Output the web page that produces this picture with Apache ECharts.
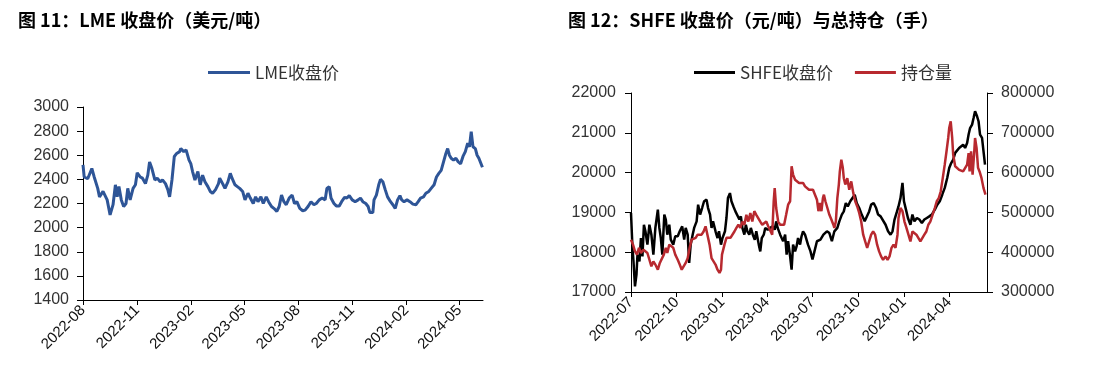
<!DOCTYPE html>
<html>
<head>
<meta charset="utf-8">
<script src="https://cdn.jsdelivr.net/npm/echarts@6/dist/echarts.min.js"></script>
<style>
html, body { margin: 0; padding: 0; background: #fff; }
#main { width: 1093px; height: 377px; }
</style>
</head>
<body>
<div id="main"></div>
<script>
// 图11 LME收盘价（美元/吨）
var lmeDates = [
  '2022-08-01','2022-08-03','2022-08-09','2022-08-12','2022-08-16','2022-08-20','2022-08-26','2022-08-29',
  '2022-09-04','2022-09-07','2022-09-11','2022-09-16','2022-09-21','2022-09-25','2022-09-28','2022-10-01',
  '2022-10-05','2022-10-09','2022-10-13','2022-10-16','2022-10-20','2022-10-25','2022-10-29','2022-11-01',
  '2022-11-06','2022-11-10','2022-11-15','2022-11-19','2022-11-22','2022-11-26','2022-12-01','2022-12-05',
  '2022-12-10','2022-12-14','2022-12-19','2022-12-23','2022-12-26','2022-12-30','2023-01-03','2023-01-07',
  '2023-01-12','2023-01-14','2023-01-19','2023-01-23','2023-01-28','2023-01-31','2023-02-03','2023-02-07',
  '2023-02-12','2023-02-16','2023-02-20','2023-02-24','2023-03-01','2023-03-05','2023-03-09','2023-03-14',
  '2023-03-19','2023-03-21','2023-03-26','2023-03-30','2023-04-04','2023-04-08','2023-04-11','2023-04-16',
  '2023-04-20','2023-04-24','2023-04-29','2023-05-03','2023-05-08','2023-05-12','2023-05-17','2023-05-21',
  '2023-05-25','2023-05-30','2023-06-03','2023-06-08','2023-06-12','2023-06-17','2023-06-21','2023-06-26',
  '2023-06-30','2023-07-04','2023-07-08','2023-07-12','2023-07-17','2023-07-22','2023-07-26','2023-07-30',
  '2023-08-04','2023-08-09','2023-08-13','2023-08-18','2023-08-23','2023-08-28','2023-09-01','2023-09-06',
  '2023-09-11','2023-09-16','2023-09-19','2023-09-23','2023-09-26','2023-10-01','2023-10-05','2023-10-10',
  '2023-10-14','2023-10-19','2023-10-23','2023-10-27','2023-11-01','2023-11-06','2023-11-11','2023-11-15',
  '2023-11-19','2023-11-24','2023-11-28','2023-12-01','2023-12-06','2023-12-08','2023-12-12','2023-12-16',
  '2023-12-19','2023-12-23','2023-12-27','2023-12-31','2024-01-05','2024-01-09','2024-01-13','2024-01-17',
  '2024-01-21','2024-01-24','2024-01-28','2024-02-02','2024-02-07','2024-02-12','2024-02-17','2024-02-21',
  '2024-02-25','2024-03-01','2024-03-05','2024-03-10','2024-03-14','2024-03-19','2024-03-23','2024-03-27',
  '2024-03-31','2024-04-04','2024-04-08','2024-04-11','2024-04-14','2024-04-17','2024-04-21','2024-04-25',
  '2024-04-29','2024-05-03','2024-05-07','2024-05-11','2024-05-15','2024-05-18','2024-05-21','2024-05-24',
  '2024-05-28','2024-05-31','2024-06-03','2024-06-06','2024-06-09'
];
var lmeClose = [
  2520,2420,2405,2410,2490,2420,2325,2255,
  2300,2315,2230,2105,2190,2355,2255,2340,
  2230,2175,2200,2325,2230,2325,2355,2455,
  2420,2410,2365,2435,2545,2490,2395,2410,
  2380,2395,2365,2315,2255,2395,2590,2615,
  2630,2655,2630,2645,2560,2530,2465,2395,
  2465,2355,2435,2380,2340,2300,2285,2315,
  2365,2410,2365,2325,2380,2450,2410,2355,
  2340,2325,2300,2230,2285,2245,2200,2255,
  2215,2255,2200,2255,2215,2175,2160,2135,
  2175,2270,2215,2190,2245,2270,2200,2215,
  2160,2140,2145,2175,2215,2190,2200,2230,
  2245,2230,2325,2340,2245,2200,2180,2180,
  2215,2250,2245,2265,2230,2215,2230,2245,
  2215,2200,2175,2125,2125,2230,2270,2355,
  2400,2380,2315,2255,2215,2190,2160,2230,
  2265,2230,2215,2230,2215,2195,2190,2215,
  2245,2255,2285,2300,2325,2355,2420,2450,
  2475,2545,2615,2655,2600,2575,2560,2575,
  2545,2530,2590,2630,2700,2670,2795,2670,
  2655,2600,2575,2560,2500
];
var lmeTicks = ['2022-08-01','2022-11-01','2023-02-01','2023-05-01','2023-08-01','2023-11-01','2024-02-01','2024-05-01'];

// 图12 SHFE收盘价（元/吨）
var shfeDates = [
  '2022-07-01','2022-07-04','2022-07-06','2022-07-09','2022-07-12','2022-07-14','2022-07-18','2022-07-21',
  '2022-07-24','2022-07-27','2022-07-30','2022-08-03','2022-08-07','2022-08-11','2022-08-15','2022-08-19',
  '2022-08-24','2022-08-27','2022-08-30','2022-09-02','2022-09-06','2022-09-09','2022-09-12','2022-09-16',
  '2022-09-19','2022-09-24','2022-09-28','2022-10-03','2022-10-07','2022-10-12','2022-10-16','2022-10-19',
  '2022-10-23','2022-10-26','2022-10-29','2022-11-02','2022-11-05','2022-11-10','2022-11-13','2022-11-17',
  '2022-11-21','2022-11-25','2022-11-30','2022-12-03','2022-12-07','2022-12-10','2022-12-13','2022-12-18',
  '2022-12-22','2022-12-25','2022-12-29','2023-01-01','2023-01-06','2023-01-09','2023-01-12','2023-01-16',
  '2023-01-19','2023-01-23','2023-01-27','2023-01-31','2023-02-04','2023-02-07','2023-02-10','2023-02-14',
  '2023-02-17','2023-02-20','2023-02-24','2023-02-27','2023-03-03','2023-03-07','2023-03-10','2023-03-15',
  '2023-03-18','2023-03-21','2023-03-25','2023-03-28','2023-04-02','2023-04-07','2023-04-12','2023-04-16',
  '2023-04-19','2023-04-22','2023-04-27','2023-04-30','2023-05-03','2023-05-07','2023-05-10','2023-05-13',
  '2023-05-17','2023-05-20','2023-05-23','2023-05-27','2023-05-30','2023-06-02','2023-06-06','2023-06-09',
  '2023-06-12','2023-06-16','2023-06-22','2023-06-27','2023-07-01','2023-07-05','2023-07-10','2023-07-17',
  '2023-07-23','2023-07-30','2023-08-04','2023-08-09','2023-08-14','2023-08-20','2023-08-24','2023-08-29',
  '2023-09-02','2023-09-06','2023-09-10','2023-09-15','2023-09-19','2023-09-24','2023-09-28','2023-10-03',
  '2023-10-08','2023-10-14','2023-10-18','2023-10-23','2023-10-27','2023-11-01','2023-11-06','2023-11-10',
  '2023-11-15','2023-11-19','2023-11-25','2023-11-30','2023-12-05','2023-12-09','2023-12-13','2023-12-18',
  '2023-12-21','2023-12-25','2023-12-29','2024-01-01','2024-01-05','2024-01-09','2024-01-14','2024-01-18',
  '2024-01-22','2024-01-27','2024-02-01','2024-02-06','2024-02-11','2024-02-16','2024-02-21','2024-02-26',
  '2024-03-03','2024-03-08','2024-03-13','2024-03-18','2024-03-23','2024-03-28','2024-04-01','2024-04-05',
  '2024-04-09','2024-04-13','2024-04-17','2024-04-21','2024-04-25','2024-04-29','2024-05-03','2024-05-07',
  '2024-05-10','2024-05-13','2024-05-17','2024-05-20','2024-05-23','2024-05-27','2024-05-30','2024-06-02',
  '2024-06-06','2024-06-09','2024-06-12'
];
var shfeClose = [
  18985,18105,17770,17140,17435,17940,17770,18355,
  17895,18690,18525,18190,18690,18440,17940,18610,
  19070,18610,18355,17940,18945,18820,18440,18690,
  18315,18190,18400,18400,18525,18650,18315,18610,
  18440,17730,18190,18440,18610,18775,19195,18945,
  19110,19280,19320,19110,18945,18610,18775,18525,
  18355,18525,18190,18355,18525,18860,19360,19485,
  19280,19150,19025,18985,18820,18900,18610,18440,
  18690,18525,18440,18610,18440,18315,18525,18190,
  18020,18355,18440,18610,18565,18610,18650,18565,
  18775,18610,18440,18355,18275,18440,17940,18275,
  17895,17560,18190,18020,18145,18355,18190,18400,
  18525,18440,18190,18020,17815,18020,18275,18315,
  18440,18525,18480,18275,18525,18610,18775,18945,
  19025,19235,19150,19280,19320,19445,19235,19110,
  18945,18775,18820,19025,19195,19235,19110,18945,
  18900,18860,18690,18525,18440,18525,18820,19025,
  19150,19360,19740,19280,19070,18860,18690,18945,
  18775,18860,18820,18735,18820,18860,18900,18945,
  19070,19195,19280,19445,19615,19865,20115,20240,
  20325,20495,20450,20620,20575,20700,20620,20745,
  20955,21120,21205,21370,21540,21415,21290,20955,
  20870,20535,20200
];

// 图12 持仓量（手）
var oiDates = [
  '2022-07-01','2022-07-05','2022-07-09','2022-07-13','2022-07-17','2022-07-21','2022-07-26','2022-07-30',
  '2022-08-03','2022-08-07','2022-08-11','2022-08-15','2022-08-19','2022-08-24','2022-08-28','2022-09-01',
  '2022-09-05','2022-09-09','2022-09-12','2022-09-16','2022-09-20','2022-09-24','2022-09-28','2022-10-03',
  '2022-10-07','2022-10-11','2022-10-15','2022-10-19','2022-10-23','2022-10-27','2022-10-31','2022-11-04',
  '2022-11-08','2022-11-12','2022-11-16','2022-11-20','2022-11-24','2022-11-28','2022-12-02','2022-12-06',
  '2022-12-10','2022-12-14','2022-12-18','2022-12-22','2022-12-26','2022-12-29','2022-12-31','2023-01-05',
  '2023-01-09','2023-01-13','2023-01-17','2023-01-21','2023-01-25','2023-01-29','2023-02-02','2023-02-06',
  '2023-02-10','2023-02-14','2023-02-18','2023-02-22','2023-02-26','2023-03-02','2023-03-06','2023-03-10',
  '2023-03-14','2023-03-18','2023-03-22','2023-03-26','2023-03-30','2023-04-03','2023-04-07','2023-04-11',
  '2023-04-14','2023-04-16','2023-04-19','2023-04-23','2023-04-27','2023-05-01','2023-05-05','2023-05-09',
  '2023-05-13','2023-05-17','2023-05-20','2023-05-23','2023-05-27','2023-05-31','2023-06-04','2023-06-08',
  '2023-06-12','2023-06-16','2023-06-20','2023-06-24','2023-06-28','2023-07-02','2023-07-06','2023-07-10',
  '2023-07-13','2023-07-16','2023-07-19','2023-07-22','2023-07-24','2023-07-27','2023-07-31','2023-08-04',
  '2023-08-08','2023-08-12','2023-08-14','2023-08-17','2023-08-20','2023-08-23','2023-08-25','2023-08-28',
  '2023-08-31','2023-09-02','2023-09-05','2023-09-09','2023-09-13','2023-09-17','2023-09-21','2023-09-25',
  '2023-09-29','2023-10-03','2023-10-07','2023-10-11','2023-10-15','2023-10-19','2023-10-23','2023-10-27',
  '2023-10-31','2023-11-04','2023-11-08','2023-11-12','2023-11-16','2023-11-20','2023-11-25','2023-11-29',
  '2023-12-03','2023-12-07','2023-12-11','2023-12-15','2023-12-19','2023-12-21','2023-12-25','2023-12-29',
  '2024-01-02','2024-01-06','2024-01-10','2024-01-14','2024-01-18','2024-01-22','2024-01-26','2024-01-30',
  '2024-02-03','2024-02-07','2024-02-11','2024-02-15','2024-02-19','2024-02-23','2024-02-27','2024-03-03',
  '2024-03-07','2024-03-11','2024-03-15','2024-03-19','2024-03-23','2024-03-27','2024-03-30','2024-04-01',
  '2024-04-04','2024-04-07','2024-04-09','2024-04-13','2024-04-17','2024-04-21','2024-04-25','2024-04-29',
  '2024-05-03','2024-05-07','2024-05-10','2024-05-12','2024-05-15','2024-05-18','2024-05-21','2024-05-23',
  '2024-05-26','2024-05-29','2024-06-01','2024-06-05','2024-06-09','2024-06-13'
];
var oiVolume = [
  431500,419000,402000,394000,411000,398000,406000,402000,
  398000,394000,364500,377000,369000,356000,373000,377000,
  394000,411000,398000,419000,423000,411000,394000,381000,
  369000,356000,352000,373000,385000,411000,431500,427000,
  436000,444000,440000,444000,452000,465000,461000,419000,
  385000,377000,369000,356000,348000,356000,394000,419000,
  436000,431500,436000,440000,452000,461000,469000,461000,
  477000,469000,494000,477000,498500,477000,503000,494000,
  498500,477000,469000,469000,477000,465000,461000,444000,
  528000,561000,511000,477000,469000,473000,469000,494000,
  519500,528000,616000,595000,582000,578000,574000,570000,
  574000,565500,561000,557000,561000,557000,544500,532000,
  503000,523500,503000,536000,544500,528000,511000,494000,
  482000,469000,461000,477000,536000,570000,603000,632500,
  612000,586000,570000,586000,557000,578000,549000,528000,
  515000,498500,477000,444000,427000,411000,415000,444000,
  452000,444000,419000,402000,389500,381000,389500,381000,
  389500,411000,419000,411000,444000,486000,511000,503000,
  477000,461000,444000,427000,452000,456500,444000,440000,
  427000,423000,444000,452000,469000,477000,482000,511000,
  528000,536000,553000,586000,620000,657500,687000,712000,
  729000,687000,645000,616000,612000,607000,612000,603000,
  607000,620000,649000,603000,653500,595000,645000,687000,
  662000,612000,603000,586000,561000,544500
];
var shfeTicks = ['2022-07-01','2022-10-01','2023-01-01','2023-04-01','2023-07-01','2023-10-01','2024-01-01','2024-04-01'];

function toTime(s) {
  var p = s.split('-');
  return new Date(+p[0], +p[1] - 1, +p[2]).getTime();
}
function zip(dates, values) {
  return dates.map(function (d, i) { return [toTime(d), values[i]]; });
}
function monthLabel(v) {
  var d = new Date(v);
  var m = d.getMonth() + 1;
  return d.getFullYear() + '-' + (m < 10 ? '0' + m : m);
}

var axisFont = 'Liberation Sans';
var lineStyleAxis = { show: true, onZero: false, lineStyle: { color: '#000', width: 1 } };

// 日期轴：用数值轴承载时间戳，刻度只放在每季首月
function dateAxis(gridIndex, minDate, maxDate, ticks) {
  var tickValues = ticks.map(toTime);
  return {
    type: 'value',
    gridIndex: gridIndex,
    min: toTime(minDate),
    max: toTime(maxDate),
    axisLine: lineStyleAxis,
    axisTick: { show: true, length: 5, lineStyle: { color: '#000' }, customValues: tickValues },
    splitLine: { show: false },
    axisLabel: {
      rotate: 45,
      fontSize: 15,
      fontFamily: axisFont,
      color: '#111',
      margin: 8,
      hideOverlap: false,
      customValues: tickValues,
      formatter: monthLabel
    }
  };
}

function valueAxis(gridIndex, min, max, interval, position, margin) {
  return {
    type: 'value',
    gridIndex: gridIndex,
    position: position,
    min: min,
    max: max,
    interval: interval,
    axisLine: lineStyleAxis,
    axisTick: { show: true, length: 6, lineStyle: { color: '#000' } },
    splitLine: { show: false },
    axisLabel: {
      fontSize: 16, fontFamily: axisFont, color: '#333', margin: margin,
      formatter: function (v) { return String(v); }
    }
  };
}

var titleStyle = { fontSize: 18, fontWeight: 'bold', color: '#000', fontFamily: 'Noto Sans CJK SC' };
var legendText = { fontSize: 17, color: '#333', fontFamily: 'Noto Sans CJK SC' };

var chart = echarts.init(document.getElementById('main'));

chart.setOption({
  backgroundColor: '#fff',
  animation: false,
  title: [
    { text: '图 11：LME 收盘价（美元/吨）', left: 13, top: 6, textStyle: titleStyle },
    { text: '图 12：SHFE 收盘价（元/吨）与总持仓（手）', left: 563, top: 6, textStyle: titleStyle }
  ],
  legend: [
    {
      data: ['LME收盘价'],
      left: 203, top: 59,
      icon: 'rect', itemWidth: 42, itemHeight: 3, itemGap: 20,
      textStyle: legendText
    },
    {
      data: ['SHFE收盘价', '持仓量'],
      left: 689, top: 59,
      icon: 'rect', itemWidth: 41, itemHeight: 3, itemGap: 22,
      textStyle: legendText
    }
  ],
  grid: [
    { left: 83, top: 107, width: 400, height: 193 },
    { left: 631, top: 93, width: 356, height: 199 }
  ],
  xAxis: [
    dateAxis(0, '2022-08-01', '2024-06-10', lmeTicks),
    dateAxis(1, '2022-07-01', '2024-06-16', shfeTicks)
  ],
  yAxis: [
    valueAxis(0, 1400, 3000, 200, 'left', 14),
    valueAxis(1, 17000, 22000, 1000, 'left', 15),
    valueAxis(1, 300000, 800000, 100000, 'right', 14)
  ],
  series: [
    {
      name: 'LME收盘价', type: 'line', xAxisIndex: 0, yAxisIndex: 0,
      data: zip(lmeDates, lmeClose),
      symbol: 'none', lineStyle: { color: '#2E5597', width: 3 }, itemStyle: { color: '#2E5597' }
    },
    {
      name: 'SHFE收盘价', type: 'line', xAxisIndex: 1, yAxisIndex: 1,
      data: zip(shfeDates, shfeClose),
      symbol: 'none', lineStyle: { color: '#000', width: 2.5 }, itemStyle: { color: '#000' }
    },
    {
      name: '持仓量', type: 'line', xAxisIndex: 1, yAxisIndex: 2,
      data: zip(oiDates, oiVolume),
      symbol: 'none', lineStyle: { color: '#B8292F', width: 2.5 }, itemStyle: { color: '#B8292F' }
    }
  ]
});
</script>
</body>
</html>
